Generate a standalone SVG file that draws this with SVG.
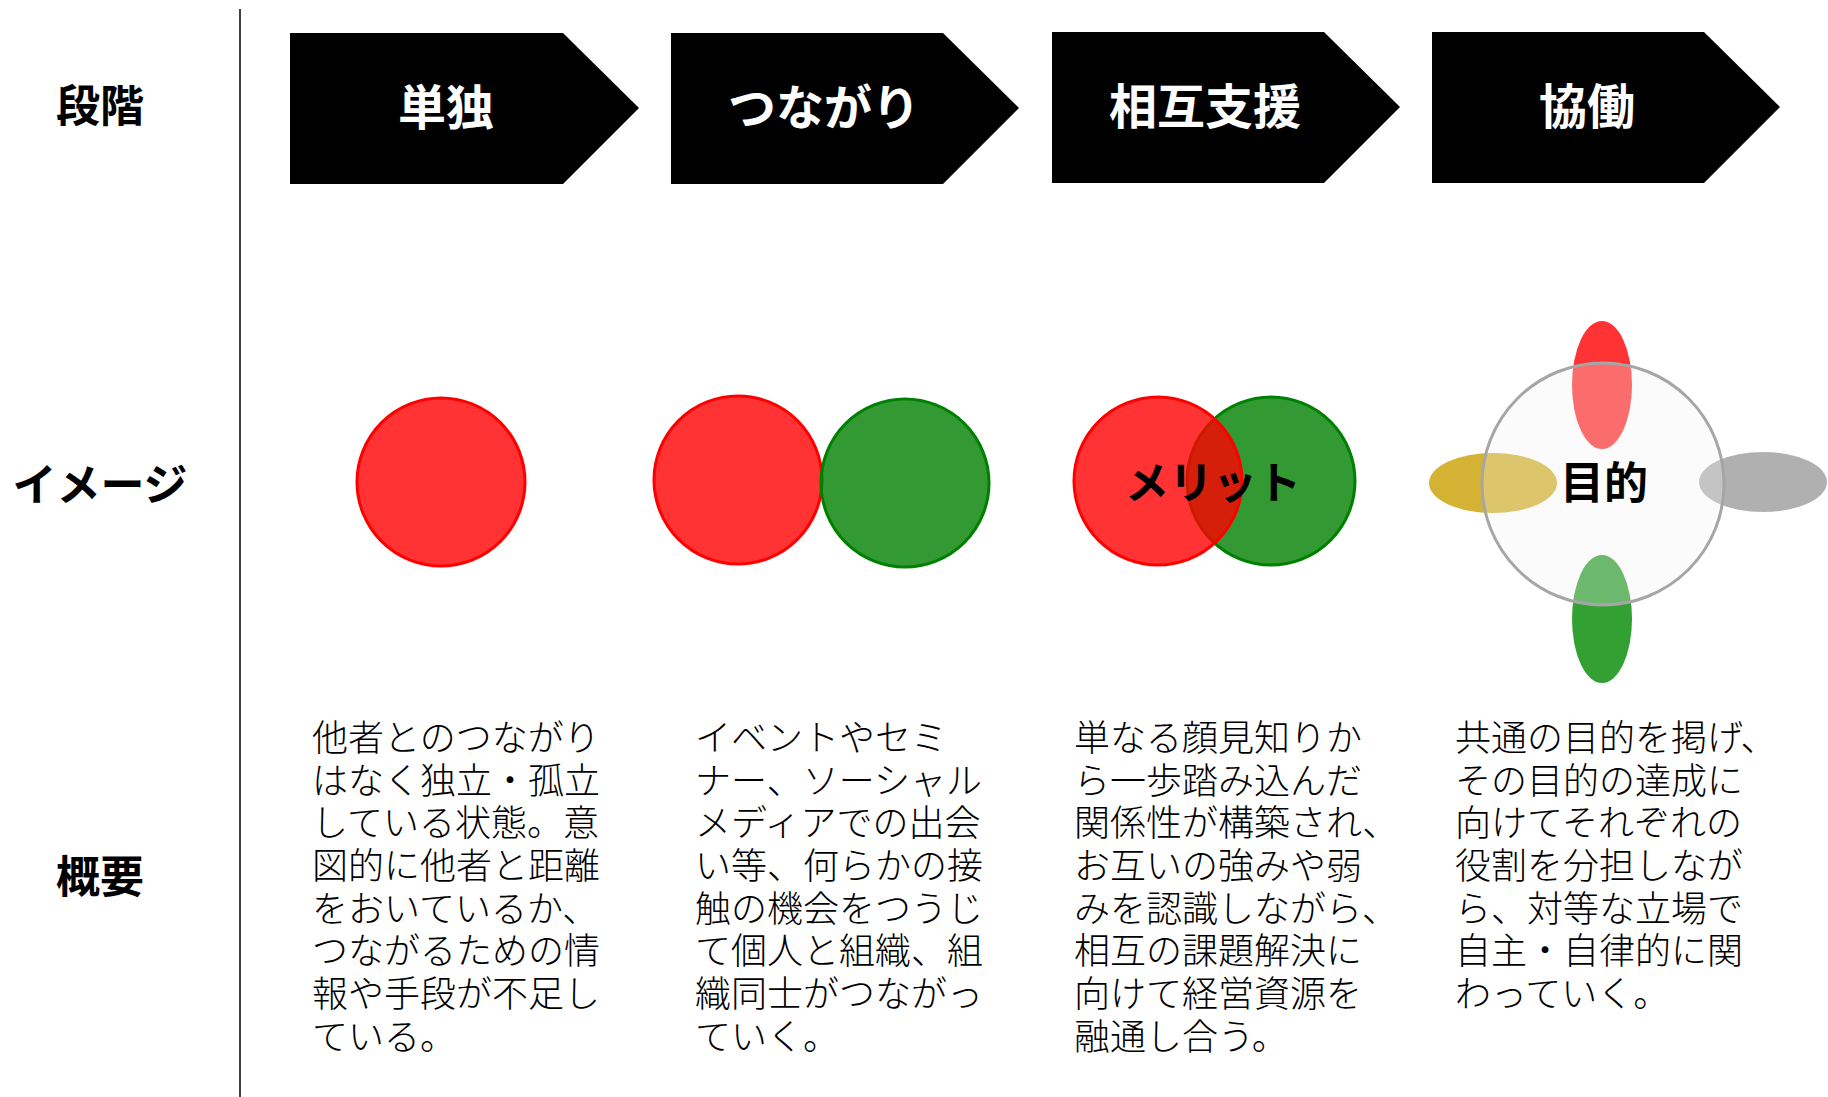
<svg xmlns="http://www.w3.org/2000/svg" width="1828" height="1097" viewBox="0 0 1828 1097">
<defs>
<style>
.lbl{font-family:"Noto Sans CJK JP","Noto Sans",sans-serif;font-weight:700;font-size:44px;fill:#000;text-anchor:middle;dominant-baseline:central}
.arr{fill:#000}
.atx{font-family:"Noto Sans CJK JP","Noto Sans",sans-serif;font-weight:700;font-size:48px;fill:#fff;text-anchor:middle;dominant-baseline:central}
.body{font-family:"Noto Sans CJK JP","Noto Sans",sans-serif;font-weight:300;font-size:36px;fill:#000;dominant-baseline:central}
.red{fill:#ff0000;fill-opacity:0.8;stroke:#ff0000;stroke-width:3}
.grn{fill:#008000;fill-opacity:0.8;stroke:#008000;stroke-width:3}
</style>
</defs>
<rect width="1828" height="1097" fill="#fff"/>
<g id="divider"><line x1="240" y1="9" x2="240" y2="1097" stroke="#000" stroke-width="1.5"/></g>
<g id="row-labels">
<text class="lbl" x="100" y="103">段階</text>
<text class="lbl" x="100" y="482">イメージ</text>
<text class="lbl" x="100" y="874">概要</text>
</g>
<g id="stage-1">
<polygon class="arr" points="290,33 563,33 639,108 563,184 290,184"/>
<text class="atx" x="446" y="104">単独</text>
</g>
<g id="stage-2">
<polygon class="arr" points="671,33 943,33 1019,108 943,184 671,184"/>
<text class="atx" x="824" y="104">つながり</text>
</g>
<g id="stage-3">
<polygon class="arr" points="1052,32 1324,32 1400,107 1324,183 1052,183"/>
<text class="atx" x="1205" y="103">相互支援</text>
</g>
<g id="stage-4">
<polygon class="arr" points="1432,32 1704,32 1780,107 1704,183 1432,183"/>
<text class="atx" x="1587" y="103">協働</text>
</g>
<g id="image-1">
<circle class="red" cx="441" cy="482" r="84"/>
</g>
<g id="image-2">
<circle class="red" cx="738" cy="480" r="84"/>
<circle class="grn" cx="905" cy="483" r="84"/>
</g>
<g id="image-3">
<circle class="grn" cx="1271" cy="481" r="84"/>
<circle class="red" cx="1158" cy="481" r="84"/>
<text class="lbl" x="1213" y="480">メリット</text>
</g>
<g id="image-4">
<ellipse cx="1602" cy="385" rx="30" ry="64" fill="#ff3333"/>
<ellipse cx="1602" cy="619" rx="30" ry="64" fill="#33a033"/>
<ellipse cx="1493" cy="483" rx="64" ry="30" fill="#d4b233"/>
<ellipse cx="1763" cy="482" rx="64" ry="30" fill="#b0b0b0"/>
<circle cx="1603" cy="484" r="121" fill="#f2f2f2" fill-opacity="0.3" stroke="#a6a6a6" stroke-width="3"/>
<text class="lbl" x="1604" y="480">目的</text>
</g>
<g id="summary-1">
<text class="body" x="312" y="735">他者とのつながり</text>
<text class="body" x="312" y="778">はなく独立・孤立</text>
<text class="body" x="312" y="820">している状態。意</text>
<text class="body" x="312" y="863">図的に他者と距離</text>
<text class="body" x="312" y="906">をおいているか、</text>
<text class="body" x="312" y="948">つながるための情</text>
<text class="body" x="312" y="991">報や手段が不足し</text>
<text class="body" x="312" y="1034">ている。</text>
</g>
<g id="summary-2">
<text class="body" x="695" y="735">イベントやセミ</text>
<text class="body" x="695" y="778">ナー、ソーシャル</text>
<text class="body" x="695" y="820">メディアでの出会</text>
<text class="body" x="695" y="863">い等、何らかの接</text>
<text class="body" x="695" y="906">触の機会をつうじ</text>
<text class="body" x="695" y="948">て個人と組織、組</text>
<text class="body" x="695" y="991">織同士がつながっ</text>
<text class="body" x="695" y="1034">ていく。</text>
</g>
<g id="summary-3">
<text class="body" x="1074" y="735">単なる顔見知りか</text>
<text class="body" x="1074" y="778">ら一歩踏み込んだ</text>
<text class="body" x="1074" y="820">関係性が構築され、</text>
<text class="body" x="1074" y="863">お互いの強みや弱</text>
<text class="body" x="1074" y="906">みを認識しながら、</text>
<text class="body" x="1074" y="948">相互の課題解決に</text>
<text class="body" x="1074" y="991">向けて経営資源を</text>
<text class="body" x="1074" y="1034">融通し合う。</text>
</g>
<g id="summary-4">
<text class="body" x="1455" y="735">共通の目的を掲げ、</text>
<text class="body" x="1455" y="778">その目的の達成に</text>
<text class="body" x="1455" y="820">向けてそれぞれの</text>
<text class="body" x="1455" y="863">役割を分担しなが</text>
<text class="body" x="1455" y="906">ら、対等な立場で</text>
<text class="body" x="1455" y="948">自主・自律的に関</text>
<text class="body" x="1455" y="991">わっていく。</text>
</g>
<g id="connectors"/>
</svg>
